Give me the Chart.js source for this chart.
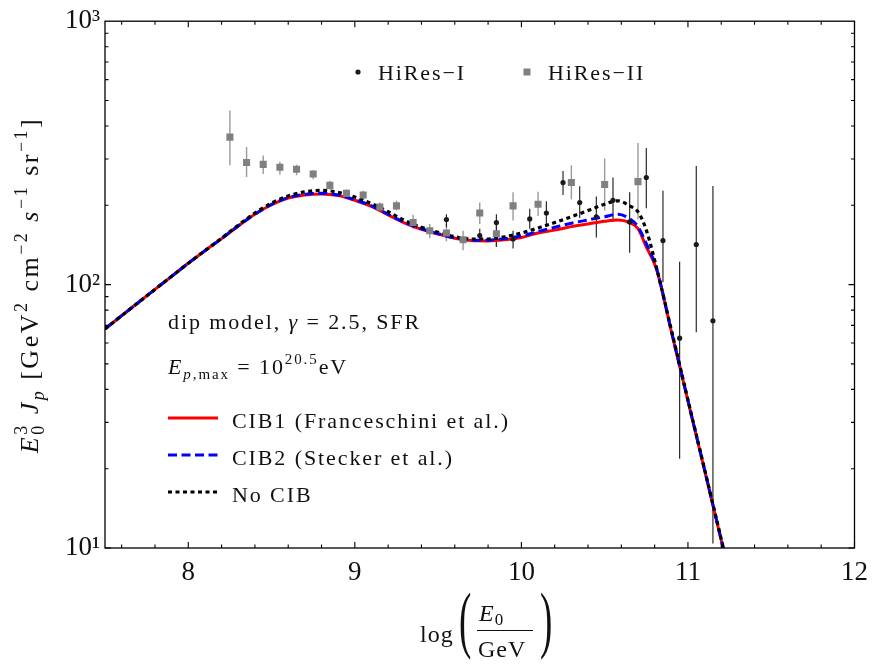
<!DOCTYPE html>
<html lang="en">
<head>
<meta charset="UTF-8">
<title>UHE proton spectrum, dip model</title>
<script src="https://cdn.jsdelivr.net/npm/chart.js"></script>
<style>
  html, body { margin: 0; padding: 0; background: #fff; }
  #wrap { width: 877px; height: 666px; }
</style>
</head>
<body>
<div id="wrap"><canvas id="myChart" width="877" height="666"></canvas></div>
<script>
const SERIF = '"Liberation Serif", "DejaVu Serif", serif';

// model curves: log10(E0/GeV) grid and E0^3 Jp for each CIB model
const logE  = [7.5, 7.6, 7.7, 7.8, 7.9, 8.0, 8.1, 8.2, 8.3, 8.4, 8.5, 8.6, 8.7, 8.8, 8.9, 9.0, 9.1, 9.2, 9.3, 9.4,
               9.5, 9.6, 9.7, 9.8, 9.9, 10.0, 10.1, 10.2, 10.3, 10.4, 10.5, 10.58, 10.65, 10.7, 10.75, 10.81,
               10.9, 11.0, 11.1, 11.2, 11.3];
const cib1  = [67.9, 76.2, 85.5, 95.9, 107.5, 120.5, 134.5, 149.5, 167, 185, 201, 213, 219, 221, 218, 209, 198, 184, 171, 162,
               155.5, 150, 147, 146.5, 148, 151, 157, 161, 166, 170, 174, 176, 172, 163, 139, 115,
               66.5, 36.2, 19.7, 10.7, 5.8];
const cib2  = [67.9, 76.2, 85.5, 95.9, 107.5, 120.5, 134.5, 149.5, 167, 185, 201.5, 214, 220, 222, 219, 210, 199, 185, 172, 163,
               156, 150.5, 147.5, 147.5, 149.5, 153, 159, 165, 171, 176, 181, 185, 178, 166, 143, 116,
               66.8, 36.3, 19.8, 10.75, 5.85];
const noCib = [67.9, 76.2, 85.5, 95.9, 107.5, 120.5, 134.5, 150, 168, 187, 204, 217, 225, 228, 224, 215, 203, 189, 175, 165,
               158, 152, 149, 149, 152, 157, 164, 172, 181, 191, 202, 208, 199, 189, 161, 117,
               67.5, 36.5, 19.9, 10.8, 5.9];

// HiRes-I data (black dots)
const hires1X  = [9.55, 9.75, 9.85, 9.95, 10.05, 10.15, 10.25, 10.35, 10.45, 10.55, 10.65, 10.75, 10.85, 10.95, 11.05, 11.15];
const hires1Y  = [176.5, 153.6, 172, 149, 177.5, 187, 244, 205, 181, 209, 173, 255, 147, 62.6, 142, 72.9];
const hires1Lo = [165, 145, 139, 137, 163, 168, 219, 179, 151, 173, 132, 195, 102, 21.8, 66, 10.4];
const hires1Hi = [185, 163, 185, 160, 194, 207, 270, 236, 216, 255, 224, 330, 227, 122, 282, 237];

// HiRes-II data (grey squares)
const hires2X  = [8.25, 8.35, 8.45, 8.55, 8.65, 8.75, 8.85, 8.95, 9.05, 9.15, 9.25, 9.35, 9.45, 9.55, 9.65, 9.75,
                  9.85, 9.95, 10.1, 10.3, 10.5, 10.7];
const hires2Y  = [363, 291, 286, 279, 274, 263, 238, 222, 219, 197, 199, 172, 160, 157, 148, 187,
                  156, 199, 202, 244, 240, 246];
const hires2Lo = [284, 256, 263, 262, 260, 251, 229, 212, 210, 189, 191, 163, 150, 146, 135, 170,
                  139, 175, 182, 211, 191, 177];
const hires2Hi = [458, 333, 309, 293, 285, 272, 248, 230, 227, 205, 208, 184, 170, 170, 160, 205,
                  172, 224, 225, 284, 301, 345];

const xTicks = [8, 9, 10, 11, 12];
const yTicks = [10, 100, 1000];
const yTickLabels = ['10\u00b9', '10\u00b2', '10\u00b3'];

const toXY = (xs, ys) => xs.map((x, i) => ({ x: x, y: ys[i] }));

function font(size, italic) {
    return (italic ? 'italic ' : '') + size + 'px ' + SERIF;
}

// parts: [text, size, italic, dy, advance]
function richText(ctx, parts, x, y, draw) {
    let cx = x;
    for (const p of parts) {
        ctx.font = font(p[1], p[2]);
        if (draw) ctx.fillText(p[0], cx, y + (p[3] || 0));
        const w = ctx.measureText(p[0]).width;
        if (p[4] !== false) cx += w;
    }
    return cx - x;
}

function spacing(ctx, px) {
    if ('letterSpacing' in ctx) ctx.letterSpacing = px + 'px';
}

// vertical error bars behind the markers
const errorBars = {
    id: 'errorBars',
    beforeDatasetsDraw(chart) {
        const { ctx, chartArea: a, scales: { x, y } } = chart;
        ctx.save();
        ctx.beginPath();
        ctx.rect(a.left, a.top, a.right - a.left, a.bottom - a.top);
        ctx.clip();
        const bars = (xs, lo, hi, color, w) => {
            ctx.strokeStyle = color;
            ctx.lineWidth = w;
            xs.forEach((v, i) => {
                const px = x.getPixelForValue(v);
                ctx.beginPath();
                ctx.moveTo(px, y.getPixelForValue(lo[i]));
                ctx.lineTo(px, y.getPixelForValue(hi[i]));
                ctx.stroke();
            });
        };
        bars(hires2X, hires2Lo, hires2Hi, '#9a9a9a', 1.4);
        bars(hires1X, hires1Lo, hires1Hi, '#2a2a2a', 1.2);
        ctx.restore();
    }
};

// closed frame with inward ticks on all four sides
const frame = {
    id: 'frame',
    afterDatasetsDraw(chart) {
        const { ctx, chartArea: a, scales: { x, y } } = chart;
        ctx.save();
        ctx.strokeStyle = '#000';
        ctx.lineWidth = 1.3;
        ctx.strokeRect(a.left, a.top, a.right - a.left, a.bottom - a.top);
        ctx.lineWidth = 1.1;
        ctx.beginPath();
        for (let v = 7.6; v < 12; v += 0.2) {
            const px = x.getPixelForValue(v);
            const len = Math.abs(v - Math.round(v)) < 0.01 ? 6 : 3.5;
            ctx.moveTo(px, a.bottom); ctx.lineTo(px, a.bottom - len);
            ctx.moveTo(px, a.top); ctx.lineTo(px, a.top + len);
        }
        for (let d = 10; d < 1000; d *= 10) {
            for (let m = 1; m < 10; m++) {
                const py = y.getPixelForValue(d * m);
                const len = m === 1 ? 6 : 3.5;
                ctx.moveTo(a.left, py); ctx.lineTo(a.left + len, py);
                ctx.moveTo(a.right, py); ctx.lineTo(a.right - len, py);
            }
        }
        ctx.stroke();
        ctx.restore();
    }
};

// axis titles, in-plot notes and legends
const labels = {
    id: 'labels',
    afterDraw(chart) {
        const ctx = chart.ctx;
        ctx.save();
        ctx.fillStyle = '#111';
        ctx.textBaseline = 'alphabetic';
        ctx.textAlign = 'left';

        // y title, rotated
        spacing(ctx, 2.5);
        const yTitle = [
            ['E', 26, true], ['0', 18, false, 6, false], ['3', 18, false, -11], [' ', 26],
            ['J', 26, true], ['p', 18, true, 6], [' [GeV', 26], ['2', 18, false, -11],
            [' cm', 26], ['\u22122', 18, false, -11], [' ', 26], ['s', 26, true],
            ['\u22121', 18, false, -11], [' sr', 26], ['\u22121', 18, false, -11], [']', 26]
        ];
        ctx.save();
        ctx.translate(38, 285);
        ctx.rotate(-Math.PI / 2);
        const yw = richText(ctx, yTitle, 0, 0, false);
        richText(ctx, yTitle, -yw / 2, 0, true);
        ctx.restore();

        // x title: log( E0 / GeV )
        spacing(ctx, 1);
        ctx.font = font(24, false);
        ctx.fillText('log', 420, 642);
        ctx.save();
        ctx.font = font(74, false);
        ctx.translate(459, 644);
        ctx.scale(0.5, 1);
        ctx.fillText('(', 0, 0);
        ctx.restore();
        ctx.save();
        ctx.font = font(74, false);
        ctx.translate(540, 644);
        ctx.scale(0.5, 1);
        ctx.fillText(')', 0, 0);
        ctx.restore();
        richText(ctx, [['E', 24, true], ['0', 17, false, 4]], 479, 621, true);
        ctx.font = font(24, false);
        ctx.fillText('GeV', 478, 657);
        ctx.strokeStyle = '#111';
        ctx.lineWidth = 1.2;
        ctx.beginPath();
        ctx.moveTo(477, 630.5);
        ctx.lineTo(533, 630.5);
        ctx.stroke();

        // model notes
        spacing(ctx, 1.9);
        richText(ctx, [['dip model, ', 22], ['\u03b3', 22, true], [' = 2.5, SFR', 22]], 168, 329, true);
        richText(ctx, [['E', 22, true], ['p', 15, true, 5], [',max', 15, false, 5], [' = 10', 22],
                       ['20.5', 15, false, -10], ['eV', 22]], 168, 374, true);

        // curve legend
        const rows = [
            { y: 418, text: 'CIB1 (Franceschini et al.)', color: '#ff0000', dash: [] },
            { y: 455, text: 'CIB2 (Stecker et al.)', color: '#0000ff', dash: [9, 4.5] },
            { y: 492, text: 'No CIB', color: '#000000', dash: [4, 3.5] }
        ];
        rows.forEach(r => {
            ctx.save();
            ctx.strokeStyle = r.color;
            ctx.lineWidth = 3;
            ctx.setLineDash(r.dash);
            ctx.beginPath();
            ctx.moveTo(168, r.y);
            ctx.lineTo(218, r.y);
            ctx.stroke();
            ctx.restore();
            ctx.font = font(22, false);
            ctx.fillText(r.text, 232, r.y + 10);
        });

        // data legend
        ctx.fillStyle = '#1a1a1a';
        ctx.beginPath();
        ctx.arc(358, 72, 2.6, 0, Math.PI * 2);
        ctx.fill();
        ctx.fillStyle = '#808080';
        ctx.fillRect(523.5, 68.5, 7, 7);
        ctx.fillStyle = '#111';
        ctx.font = font(22, false);
        ctx.fillText('HiRes\u2212I', 378, 80);
        ctx.fillText('HiRes\u2212II', 548, 80);
        ctx.restore();
    }
};

const ctx = document.getElementById('myChart').getContext('2d');
new Chart(ctx, {
    type: 'line',
    data: {
        datasets: [
            {
                label: 'HiRes-I', type: 'scatter', data: toXY(hires1X, hires1Y),
                pointStyle: 'circle', pointRadius: 2.6, backgroundColor: '#1a1a1a', borderWidth: 0, order: 0
            },
            {
                label: 'HiRes-II', type: 'scatter', data: toXY(hires2X, hires2Y),
                pointStyle: 'rect', pointRadius: 5, backgroundColor: '#808080', borderWidth: 0, order: 1
            },
            {
                label: 'No CIB', data: toXY(logE, noCib), borderColor: '#000000', borderWidth: 3.2,
                borderDash: [4, 3.5], pointRadius: 0, cubicInterpolationMode: 'monotone', order: 2
            },
            {
                label: 'CIB2 (Stecker et al.)', data: toXY(logE, cib2), borderColor: '#0000ff', borderWidth: 3,
                borderDash: [9, 4.5], pointRadius: 0, cubicInterpolationMode: 'monotone', order: 3
            },
            {
                label: 'CIB1 (Franceschini et al.)', data: toXY(logE, cib1), borderColor: '#ff0000', borderWidth: 3,
                pointRadius: 0, cubicInterpolationMode: 'monotone', order: 4
            }
        ]
    },
    options: {
        responsive: false,
        animation: false,
        devicePixelRatio: 1,
        layout: { padding: { top: 17, right: 14, left: 0, bottom: 0 } },
        plugins: { legend: { display: false }, tooltip: { enabled: false } },
        scales: {
            x: {
                type: 'linear', min: 7.5, max: 12,
                grid: { display: false, drawTicks: false },
                border: { display: false },
                afterFit: s => { s.height = 118; },
                afterBuildTicks: s => { s.ticks = xTicks.map(v => ({ value: v })); },
                ticks: {
                    font: { family: SERIF, size: 27 }, color: '#111', padding: 9,
                    maxRotation: 0, autoSkip: false
                }
            },
            y: {
                type: 'logarithmic', min: 10, max: 1000,
                grid: { display: false, drawTicks: false },
                border: { display: false },
                afterFit: s => { s.width = 105; },
                afterBuildTicks: s => { s.ticks = yTicks.map(v => ({ value: v })); },
                ticks: {
                    font: { family: SERIF, size: 27 }, color: '#111', padding: 5, autoSkip: false,
                    callback: v => yTickLabels[yTicks.indexOf(v)]
                }
            }
        }
    },
    plugins: [errorBars, frame, labels]
});
</script>
</body>
</html>
